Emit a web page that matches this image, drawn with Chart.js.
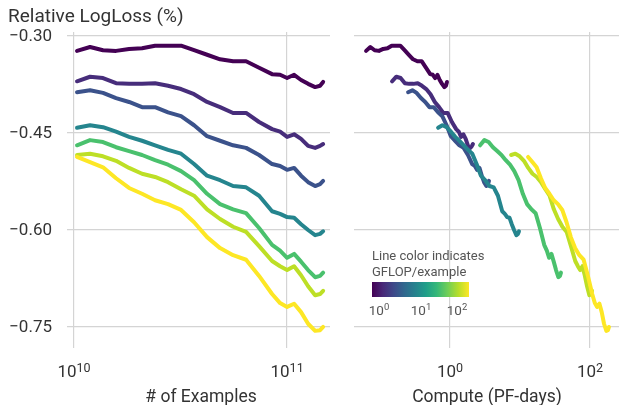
<!DOCTYPE html>
<html>
<head>
<meta charset="utf-8">
<script src="https://cdn.jsdelivr.net/npm/chart.js@4.4.0/dist/chart.umd.min.js"></script>
<style>
  body { margin: 0; background: #fff; font-family: Roboto, sans-serif; }
  #wrap { position: relative; width: 619px; height: 405px; overflow: hidden; }
  canvas { position: absolute; top: 0; }
  #left { left: 0; }
  #right { left: 335px; }
  #legend { position: absolute; left: 372px; top: 248px; font: 13px Roboto; color: #555; line-height: 16px; white-space: nowrap; }
  #legend .bar { width: 97px; height: 15px; margin-top: 2px; }
  #legend .tk { position: absolute; top: 54px; font-size: 13.5px; transform: translateX(-50%); }
  #legend .tk sup { font-size: 9.5px; vertical-align: 0; position: relative; top: -5px; }
</style>
</head>
<body>
<div id="wrap">
  <canvas id="left" width="335" height="405"></canvas>
  <canvas id="right" width="284" height="405"></canvas>
  <div id="legend">
    Line color indicates<br>GFLOP/example
    <div class="bar"></div>
    <span class="tk" style="left:7px">10<sup>0</sup></span>
    <span class="tk" style="left:49px">10<sup>1</sup></span>
    <span class="tk" style="left:85px">10<sup>2</sup></span>
  </div>
</div>
<script>
// training examples seen (x of left panel)
const examples = [1.033e10, 1.189e10, 1.368e10, 1.575e10, 1.813e10, 2.086e10, 2.401e10, 2.763e10,
  3.180e10, 3.660e10, 4.212e10, 4.847e10, 5.579e10, 6.420e10, 7.389e10, 8.503e10,
  9.271e10, 1.0e11, 1.079e11, 1.163e11, 1.255e11, 1.354e11, 1.428e11, 1.476e11];

// relative logloss per model size (smallest -> largest GFLOP/example)
const loss1 = [-0.323, -0.317, -0.322, -0.323, -0.320, -0.319, -0.315, -0.315, -0.315, -0.322, -0.329, -0.336,
  -0.339, -0.339, -0.349, -0.359, -0.360, -0.365, -0.360, -0.368, -0.374, -0.379, -0.377, -0.371];
const loss2 = [-0.370, -0.363, -0.365, -0.373, -0.374, -0.374, -0.373, -0.377, -0.382, -0.390, -0.402, -0.410,
  -0.419, -0.419, -0.433, -0.444, -0.448, -0.456, -0.452, -0.459, -0.470, -0.473, -0.470, -0.467];
const loss3 = [-0.387, -0.384, -0.388, -0.396, -0.402, -0.410, -0.410, -0.418, -0.424, -0.438, -0.455, -0.462,
  -0.469, -0.473, -0.484, -0.498, -0.501, -0.507, -0.504, -0.516, -0.526, -0.532, -0.529, -0.524];
const loss4 = [-0.442, -0.438, -0.441, -0.448, -0.456, -0.462, -0.469, -0.476, -0.482, -0.498, -0.516, -0.523,
  -0.532, -0.534, -0.547, -0.571, -0.575, -0.580, -0.581, -0.591, -0.600, -0.608, -0.606, -0.602];
const loss5 = [-0.469, -0.461, -0.464, -0.472, -0.478, -0.484, -0.492, -0.499, -0.509, -0.523, -0.544, -0.560,
  -0.568, -0.574, -0.597, -0.623, -0.632, -0.643, -0.637, -0.649, -0.662, -0.673, -0.671, -0.666];
const loss6 = [-0.484, -0.482, -0.486, -0.493, -0.504, -0.513, -0.518, -0.526, -0.537, -0.547, -0.568, -0.583,
  -0.595, -0.603, -0.625, -0.648, -0.656, -0.662, -0.656, -0.670, -0.687, -0.701, -0.699, -0.694];
const loss7 = [-0.487, -0.495, -0.503, -0.520, -0.535, -0.544, -0.554, -0.560, -0.569, -0.588, -0.611, -0.628,
  -0.639, -0.646, -0.671, -0.699, -0.713, -0.719, -0.714, -0.727, -0.745, -0.756, -0.755, -0.750];

const gflopPerExample = [0.53, 1.245, 2.11, 5.66, 22.5, 62.4, 109];
const lineColors = ['#440154', '#472d7b', '#3b528b', '#25858e', '#4ac16d', '#bddf26', '#fde725'];

const examplesTicks = [1e10, 1e11];
const computeTicks = [1, 100];
const lossTicks = [-0.30, -0.45, -0.60, -0.75];

const FLOP_PER_PFDAY = 8.64e19;
const losses = [loss1, loss2, loss3, loss4, loss5, loss6, loss7];

document.querySelector('#legend .bar').style.background =
  'linear-gradient(to right, #440154, #482878, #3e4989, #31688e, #26828e, #1f9e89, #35b779, #6ece58, #b5de2b, #fde725)';

Chart.defaults.font.family = 'Roboto';

function drawPow(ctx, cx, baseline, exp) {
  ctx.font = '17px Roboto';
  const wb = ctx.measureText('10').width;
  ctx.font = '12.5px Roboto';
  const we = ctx.measureText(String(exp)).width;
  const x0 = cx - (wb + we) / 2;
  ctx.textAlign = 'left';
  ctx.textBaseline = 'alphabetic';
  ctx.font = '17px Roboto';
  ctx.fillText('10', x0, baseline);
  ctx.font = '12.5px Roboto';
  ctx.fillText(String(exp), x0 + wb, baseline - 4.5);
}

const labels = {
  id: 'labels',
  afterDraw(chart, args, opts) {
    const ctx = chart.ctx;
    const xs = chart.scales.x, ys = chart.scales.y;
    ctx.save();
    ctx.fillStyle = '#333';
    opts.xTicks.forEach(v => drawPow(ctx, xs.getPixelForValue(v), 376.5, Math.round(Math.log10(v))));
    ctx.font = '17.5px Roboto';
    ctx.textAlign = 'center';
    ctx.fillText(opts.xTitle, opts.xTitleX, 401.5);
    if (opts.yTicks) {
      ctx.font = '17px Roboto';
      ctx.textAlign = 'right';
      ctx.textBaseline = 'middle';
      opts.yTicks.forEach(v => {
        ctx.fillText('\u2212' + Math.abs(v).toFixed(2), 52, ys.getPixelForValue(v) + 1);
      });
      ctx.textAlign = 'left';
      ctx.textBaseline = 'alphabetic';
      ctx.font = '19px Roboto';
      ctx.fillText('Relative LogLoss (%)', 8, 22);
    }
    ctx.restore();
  }
};

function makeChart(id, xmin, xmax, xTicks, xTitle, xTitleX, xOf, pad, yTicks) {
  return new Chart(document.getElementById(id), {
    type: 'line',
    data: {
      datasets: losses.map((l, i) => ({
        data: examples.map((n, k) => ({ x: xOf(n, i), y: l[k] })),
        borderColor: lineColors[i],
        borderWidth: 4,
        pointRadius: 0,
        tension: 0,
        borderJoinStyle: 'round',
        borderCapStyle: 'round',
        order: losses.length - i
      }))
    },
    options: {
      responsive: false,
      animation: false,
      layout: { padding: pad },
      plugins: {
        legend: { display: false },
        tooltip: { enabled: false },
        labels: { xTicks: xTicks, xTitle: xTitle, xTitleX: xTitleX, yTicks: yTicks }
      },
      scales: {
        x: {
          type: 'logarithmic', min: xmin, max: xmax,
          afterBuildTicks: s => { s.ticks = xTicks.map(v => ({ value: v })); },
          ticks: { display: false },
          grid: { color: '#d4d4d4', lineWidth: 1.2, drawTicks: false },
          border: { display: false }
        },
        y: {
          type: 'linear', min: -0.7825, max: -0.2938,
          afterBuildTicks: s => { s.ticks = lossTicks.map(v => ({ value: v })); },
          ticks: { display: false },
          grid: { color: '#d4d4d4', lineWidth: 1.2, drawTicks: false },
          border: { display: false }
        }
      }
    },
    plugins: [labels]
  });
}

makeChart('left', 9.27e9, 1.59e11, examplesTicks, '# of Examples', 201, n => n,
  { left: 67, top: 32, right: 5, bottom: 57 }, lossTicks);
makeChart('right', 0.0426, 259, computeTicks, 'Compute (PF-days)', 152,
  (n, i) => n * gflopPerExample[i] * 1e9 / FLOP_PER_PFDAY,
  { left: 19, top: 32, right: 0, bottom: 57 }, null);
</script>
</body>
</html>
